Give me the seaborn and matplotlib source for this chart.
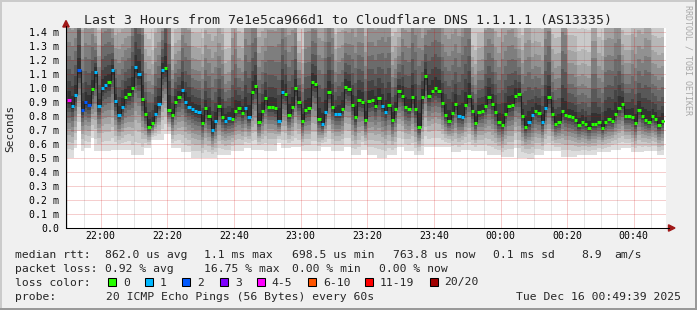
import numpy as np
import matplotlib
matplotlib.use("Agg")
import matplotlib.pyplot as plt
import seaborn as sns
from matplotlib.patches import Rectangle, Polygon
from matplotlib.lines import Line2D
from matplotlib.transforms import IdentityTransform

# ---------------- data ----------------
title = "Last 3 Hours from 7e1e5ca966d1 to Cloudflare DNS 1.1.1.1 (AS13335)"

# one sample per minute, first step starts 21:50 (x = minutes after 21:50)
median_ms = [
    0.912, 0.874, 0.952, 1.129, 0.845, 0.900, 0.881, 0.993, 1.112, 0.874,
    1.000, 1.024, 1.040, 1.129, 0.910, 0.810, 0.867, 0.938, 0.960, 1.000,
    1.150, 1.100, 0.924, 0.814, 0.724, 0.750, 0.814, 0.886, 1.129, 1.143,
    0.845, 0.810, 0.900, 0.938, 0.986, 0.900, 0.867, 0.852, 0.838, 0.829,
    0.752, 0.857, 0.800, 0.700, 0.767, 0.874, 0.795, 0.767, 0.788, 0.781,
    0.838, 0.857, 0.824, 0.857, 0.795, 0.971, 1.017, 0.760, 0.838, 0.931,
    0.867, 0.867, 0.857, 0.767, 0.974, 0.960, 0.810, 0.867, 1.000, 0.900,
    0.767, 0.845, 0.857, 1.045, 1.031, 0.781, 0.745, 0.831, 0.974, 0.867,
    0.817, 0.817, 0.852, 1.010, 0.995, 0.881, 0.795, 0.917, 0.900, 0.774,
    0.910, 0.917, 0.874, 0.931, 0.874, 0.831, 0.881, 0.774, 0.852, 0.981,
    0.945, 0.867, 0.852, 0.938, 0.852, 0.724, 0.938, 1.086, 0.945, 0.981,
    1.000, 0.981, 0.895, 0.810, 0.767, 0.824, 0.888, 0.802, 0.795, 0.881,
    0.945, 0.838, 0.752, 0.831, 0.838, 0.874, 0.938, 0.888, 0.831, 0.760,
    0.738, 0.817, 0.874, 0.881, 0.945, 0.960, 0.802, 0.724, 0.760, 0.810,
    0.838, 0.824, 0.760, 0.860, 0.938, 0.817, 0.745, 0.760, 0.838, 0.810,
    0.802, 0.795, 0.774, 0.738, 0.760, 0.745, 0.717, 0.745, 0.745, 0.760,
    0.717, 0.760, 0.781, 0.767, 0.817, 0.860, 0.888, 0.802, 0.802, 0.795,
    0.752, 0.845, 0.802, 0.774, 0.760, 0.802, 0.781, 0.738, 0.767,
]

lost_pings = [
    4, 1, 1, 2, 2, 2, 2, 0, 1, 1,
    1, 1, 0, 1, 1, 1, 1, 0, 0, 0,
    1, 1, 0, 0, 0, 0, 1, 1, 1, 0,
    0, 0, 0, 0, 1, 1, 1, 1, 1, 1,
    0, 0, 0, 1, 1, 0, 0, 1, 1, 0,
    0, 0, 0, 1, 1, 0, 0, 0, 0, 0,
    0, 0, 0, 1, 1, 0, 0, 0, 0, 0,
    0, 0, 0, 0, 0, 0, 1, 1, 0, 0,
    1, 1, 0, 0, 0, 0, 0, 0, 0, 0,
    0, 0, 0, 0, 1, 1, 0, 0, 0, 0,
    0, 0, 0, 0, 0, 0, 0, 0, 0, 0,
    0, 0, 0, 0, 0, 0, 0, 1, 1, 0,
    0, 0, 0, 0, 0, 0, 0, 0, 0, 0,
    0, 0, 0, 0, 0, 0, 0, 0, 1, 1,
    0, 0, 1, 1, 0, 0, 0, 0, 0, 0,
    0, 0, 0, 0, 0, 0, 0, 0, 0, 0,
    0, 0, 0, 0, 0, 0, 0, 0, 0, 0,
    0, 0, 0, 0, 0, 0, 0, 0, 0,
]

# fastest ping of each step (bottom of the smoke)
smoke_lo_ms = [
    0.50, 0.50, 0.57, 0.69, 0.55, 0.57, 0.57, 0.64, 0.55, 0.55,
    0.55, 0.55, 0.55, 0.56, 0.56, 0.56, 0.56, 0.56, 0.56, 0.52,
    0.52, 0.52, 0.52, 0.57, 0.57, 0.63, 0.63, 0.63, 0.63, 0.67,
    0.67, 0.57, 0.57, 0.57, 0.54, 0.54, 0.54, 0.50, 0.50, 0.50,
    0.50, 0.50, 0.50, 0.50, 0.50, 0.52, 0.52, 0.52, 0.52, 0.55,
    0.55, 0.55, 0.55, 0.57, 0.57, 0.56, 0.56, 0.56, 0.56, 0.55,
    0.55, 0.55, 0.55, 0.61, 0.57, 0.57, 0.57, 0.58, 0.58, 0.58,
    0.55, 0.55, 0.55, 0.55, 0.55, 0.55, 0.58, 0.58, 0.58, 0.55,
    0.55, 0.55, 0.55, 0.58, 0.58, 0.52, 0.52, 0.52, 0.56, 0.56,
    0.52, 0.52, 0.52, 0.50, 0.50, 0.50, 0.52, 0.52, 0.52, 0.58,
    0.58, 0.55, 0.55, 0.55, 0.52, 0.52, 0.52, 0.58, 0.58, 0.58,
    0.58, 0.58, 0.58, 0.58, 0.58, 0.54, 0.54, 0.54, 0.56, 0.56,
    0.56, 0.55, 0.55, 0.55, 0.55, 0.55, 0.52, 0.52, 0.52, 0.52,
    0.51, 0.51, 0.51, 0.51, 0.57, 0.50, 0.50, 0.50, 0.49, 0.49,
    0.52, 0.52, 0.52, 0.55, 0.55, 0.55, 0.55, 0.55, 0.51, 0.51,
    0.51, 0.51, 0.51, 0.52, 0.52, 0.52, 0.52, 0.52, 0.52, 0.54,
    0.54, 0.54, 0.54, 0.56, 0.56, 0.56, 0.57, 0.57, 0.57, 0.54,
    0.54, 0.54, 0.54, 0.55, 0.55, 0.55, 0.55, 0.52, 0.52,
]

# slowest ping of each step (top of the smoke, mostly above the graph)
smoke_hi_ms = [
    2.30, 2.30, 2.30, 2.90, 2.05, 2.30, 2.30, 2.30, 1.80, 1.80,
    2.30, 2.30, 2.30, 1.90, 1.90, 2.05, 2.05, 2.05, 2.05, 2.60,
    2.90, 2.90, 2.90, 1.80, 1.80, 1.65, 2.05, 2.05, 2.05, 2.90,
    2.90, 1.65, 1.80, 1.80, 2.30, 2.30, 2.30, 1.80, 1.80, 1.80,
    1.80, 2.05, 2.05, 2.05, 2.05, 2.05, 2.05, 1.65, 1.65, 2.30,
    2.30, 1.80, 1.80, 2.50, 2.50, 2.50, 2.50, 2.05, 2.05, 2.05,
    2.30, 2.30, 2.30, 2.60, 2.60, 2.30, 2.30, 2.30, 2.30, 1.65,
    1.65, 2.30, 2.30, 2.30, 2.30, 2.30, 2.30, 2.50, 2.50, 2.50,
    1.80, 2.05, 2.05, 2.05, 2.05, 2.30, 2.30, 2.30, 2.30, 2.05,
    2.30, 2.30, 2.30, 2.30, 2.50, 2.50, 2.50, 1.80, 1.80, 1.80,
    2.30, 2.30, 2.30, 2.60, 2.60, 2.60, 2.05, 2.05, 2.50, 2.50,
    2.50, 2.50, 2.30, 2.30, 2.30, 2.30, 2.30, 2.30, 2.70, 2.70,
    2.70, 1.65, 1.65, 1.80, 1.80, 2.30, 2.30, 2.30, 2.05, 2.05,
    2.30, 2.30, 2.30, 2.30, 2.05, 1.80, 1.80, 2.30, 2.30, 1.90,
    1.90, 1.90, 1.90, 2.50, 2.50, 1.80, 1.80, 1.80, 2.70, 2.70,
    1.80, 1.80, 1.80, 1.65, 1.65, 1.65, 1.65, 2.30, 2.30, 1.80,
    1.80, 2.30, 2.30, 2.30, 2.50, 2.50, 1.80, 1.80, 1.80, 2.05,
    2.05, 2.05, 2.05, 2.30, 2.30, 1.80, 1.80, 1.80, 1.80,
]

x_tick_minutes = [10, 30, 50, 70, 90, 110, 130, 150, 170]
x_tick_labels = ["22:00", "22:20", "22:40", "23:00", "23:20",
                 "23:40", "00:00", "00:20", "00:40"]
y_ticks = [0.0, 0.1, 0.2, 0.3, 0.4, 0.5, 0.6, 0.7, 0.8, 0.9,
           1.0, 1.1, 1.2, 1.3, 1.4]
y_tick_labels = ["0.0", "0.1 m", "0.2 m", "0.3 m", "0.4 m", "0.5 m",
                 "0.6 m", "0.7 m", "0.8 m", "0.9 m", "1.0 m", "1.1 m",
                 "1.2 m", "1.3 m", "1.4 m"]

loss_labels = ["0", "1", "2", "3", "4-5", "6-10", "11-19", "20/20"]
loss_upper = [0, 1, 2, 3, 5, 10, 19, 20]
loss_colors = ["#26ff00", "#00b8ff", "#0059ff", "#7e00ff",
               "#ff00ff", "#ff5500", "#ff0000", "#a10000"]

legend_rtt = [("median rtt:", 15.3), ("862.0 us avg", 105.3), ("1.1 ms max", 204.3),
              ("698.5 us min", 292.0), ("763.8 us now", 393.0), ("0.1 ms sd", 492.6),
              ("8.9", 581.3), ("am/s", 614.0)]
legend_loss = [("packet loss:", 15.3), ("0.92 % avg", 105.3), ("16.75 % max", 204.0),
               ("0.00 % min", 292.0), ("0.00 % now", 378.6)]
probe_text = "20 ICMP Echo Pings (56 Bytes) every 60s"
date_text = "Tue Dec 16 00:49:39 2025"

# ---------------- style ----------------
W, H, DPI = 697, 310, 100
sns.set_style("white")
plt.rcParams["font.family"] = ["DejaVu Sans Mono", "DejaVu Sans"]
MONO = ["DejaVu Sans Mono", "DejaVu Sans"]

fig = plt.figure(figsize=(W / DPI, H / DPI), dpi=DPI, facecolor="#f0f0f0")
ax = fig.add_axes([66 / W, 1 - 228 / H, 600 / W, (228 - 27.5) / H])
ax.set_facecolor("white")

med = np.array(median_ms)
lo = np.array(smoke_lo_ms)
hi = np.array(smoke_hi_ms)
n = len(med)
x_edges = np.arange(n + 1)

# smoke: 10 nested bands (pairs of sorted pings), outer = lightest
fr_low = [1.0, 0.85, 0.72, 0.60, 0.50, 0.40, 0.30, 0.21, 0.13, 0.06]
fr_up = [1.0, 0.75, 0.58, 0.47, 0.38, 0.30, 0.23, 0.16, 0.10, 0.05]
for k in range(1, 11):
    g = int(190 / 10 * (10 - k)) + 50
    col = "#%02x%02x%02x" % (g, g, g)
    lower = med - fr_low[k - 1] * (med - lo)
    upper = med + fr_up[k - 1] * (hi - med)
    ax.fill_between(x_edges, np.append(lower, lower[-1]), np.append(upper, upper[-1]),
                    step="post", color=col, linewidth=0, zorder=1)

# grid
for m in range(0, 180, 5):
    if m in x_tick_minutes:
        ax.axvline(m, color="#d00000", alpha=0.38, lw=0.72, ls=(0, (1, 1)), zorder=3)
    else:
        ax.axvline(m, color="#808080", alpha=0.4, lw=0.72, ls=(0, (1, 1)), zorder=3)
for yv in y_ticks[1:]:
    ax.axhline(yv, color="#d00000", alpha=0.38, lw=0.72, ls=(0, (1, 1)), zorder=3)

# median line (dark) and colored median markers
sns.lineplot(x=x_edges, y=np.append(med, med[-1]), drawstyle="steps-post",
             color="#202020", linewidth=0.75, ax=ax, zorder=4,
             estimator=None, sort=False)
cls = np.array([next(i for i, u in enumerate(loss_upper) if v <= u) for v in lost_pings])
for ci, colr in enumerate(loss_colors):
    idx = np.where(cls == ci)[0]
    if len(idx):
        ax.hlines(med[idx], x_edges[idx], x_edges[idx] + 1, colors=colr,
                  linewidth=2.2, zorder=5)

ax.set_xlim(-0.35, 179.65)
ax.set_ylim(0, 1.432)
ax.set_xticks(x_tick_minutes, labels=x_tick_labels)
ax.set_yticks(y_ticks, labels=y_tick_labels)
ax.tick_params(axis="x", length=0, pad=2.5, labelsize=7.1, colors="black")
ax.tick_params(axis="y", length=0, pad=4.7, labelsize=7.1, colors="black")
ax.set_xlabel("")
ax.set_ylabel("")
for s in ["top", "right"]:
    ax.spines[s].set_visible(False)
for s in ["left", "bottom"]:
    ax.spines[s].set_color("black")
    ax.spines[s].set_linewidth(0.75)
    ax.spines[s].set_zorder(6)

ident = IdentityTransform()
def P(x, y):
    return (x, H - y)

# axis extensions and arrows
fig.add_artist(Line2D([666, 669], [H - 228, H - 228], color="black", lw=0.75, transform=ident))
fig.add_artist(Line2D([66, 66], [H - 228, H - 26], color="black", lw=0.75, transform=ident))
fig.add_artist(Polygon([P(675, 228), P(668.5, 224.8), P(668.5, 231.2)], closed=True,
                       color="#a01818", transform=ident))
fig.add_artist(Polygon([P(66, 20.5), P(62.8, 27), P(69.2, 27)], closed=True,
                       color="#a01818", transform=ident))

# border
fig.add_artist(Line2D([0, W], [H - 1, H - 1], color="#cbcbcb", lw=1.44, transform=ident))
fig.add_artist(Line2D([1, 1], [0, H], color="#cbcbcb", lw=1.44, transform=ident))
fig.add_artist(Line2D([0, W], [1, 1], color="#999999", lw=1.44, transform=ident))
fig.add_artist(Line2D([W - 1, W - 1], [0, H], color="#999999", lw=1.44, transform=ident))

def ftext(x, y, s, **kw):
    kw.setdefault("family", MONO)
    kw.setdefault("fontsize", 8.2)
    kw.setdefault("va", "baseline")
    kw.setdefault("ha", "left")
    fig.text(x / W, 1 - y / H, s, **kw)

ftext(348.5, 24, title, ha="center", fontsize=9.5)
ftext(10.5, 128, "Seconds", rotation=90, ha="center", va="center", fontsize=8)
ftext(688, 60, "RRDTOOL / TOBI OETIKER", rotation=270, ha="center", va="center",
      fontsize=6, color="#a8a8a8")

for s, x in legend_rtt:
    ftext(x, 258, s)
for s, x in legend_loss:
    ftext(x, 272, s)

ftext(15.3, 285.5, "loss color:")
sq_left = [108.0, 145.3, 182.2, 219.6, 256.9, 307.6, 365.3, 429.8]
lab_x = [123.7, 159.2, 197.1, 234.9, 271.3, 322.9, 379.2, 444.6]
for lab, colr, sx, tx in zip(loss_labels, loss_colors, sq_left, lab_x):
    fig.add_artist(Rectangle((sx, H - 286), 8.0, 8.0, facecolor=colr,
                             edgecolor="black", lw=0.75, transform=ident))
    ftext(tx, 285.5, lab)

ftext(15.3, 299.7, "probe:")
ftext(106.0, 299.7, probe_text)
ftext(681.0, 299.7, date_text, ha="right")

fig.savefig("out.png", dpi=DPI, facecolor=fig.get_facecolor())
